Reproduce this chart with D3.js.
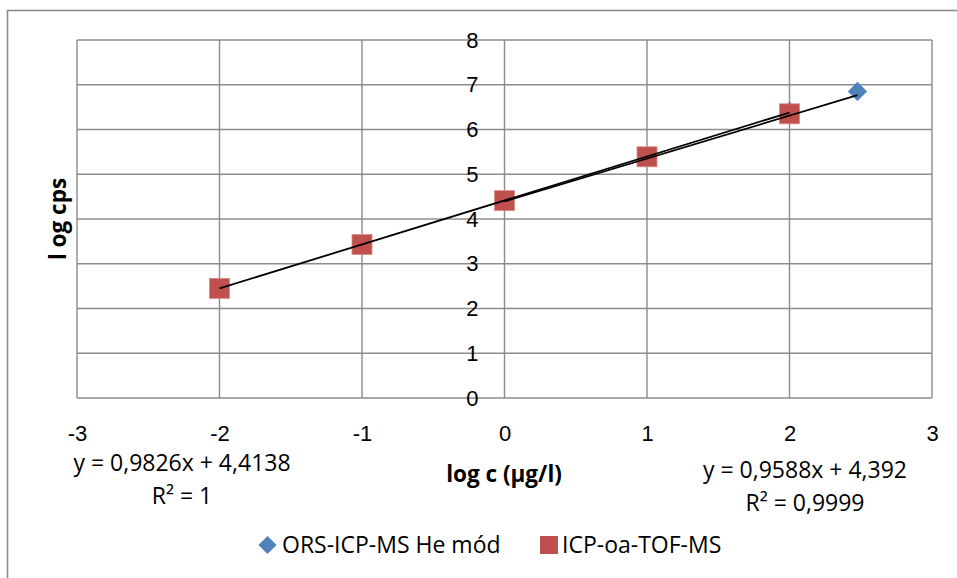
<!DOCTYPE html>
<html>
<head>
<meta charset="utf-8">
<script src="https://cdn.jsdelivr.net/npm/d3@7"></script>
<style>
  body { margin: 0; background: #fff; }
  svg { font-family: "Open Sans", sans-serif; }
  .grid line { stroke: #8c8c8c; stroke-width: 1.4; }
  .axis text { font-size: 22px; fill: #000; }
</style>
</head>
<body>
<svg id="chart" width="957" height="578"></svg>
<script>
// data
const xTicks = [-3, -2, -1, 0, 1, 2, 3];
const yTicks = [0, 1, 2, 3, 4, 5, 6, 7, 8];

const orsX = [0, 1, 2, 2.477];
const orsY = [4.43, 5.39, 6.41, 6.85];

const tofX = [-2, -1, 0, 1, 2];
const tofY = [2.45, 3.43, 4.41, 5.39, 6.35];

// trendline coefficients [slope, intercept], labels
const orsFit = [0.9588, 4.392];
const tofFit = [0.9826, 4.4138];
const orsEq = ["y = 0,9588x + 4,392", "R² = 0,9999"];
const tofEq = ["y = 0,9826x + 4,4138", "R² = 1"];
const seriesNames = ["ORS-ICP-MS He mód", "ICP-oa-TOF-MS"];
const colors = ["#4F81BD", "#C0504D"];

const svg = d3.select("#chart");
const margin = { left: 77, top: 40, right: 25, bottom: 180 };
const width = 957 - margin.left - margin.right;
const height = 578 - margin.top - margin.bottom;

// outer chart frame (runs off the picture at right and bottom)
svg.append("rect")
  .attr("x", 7.5).attr("y", 10.5)
  .attr("width", 970).attr("height", 600)
  .attr("fill", "none")
  .attr("stroke", "#8c8c8c")
  .attr("stroke-width", 1.6);

const chart = svg.append("g")
  .attr("transform", `translate(${margin.left}, ${margin.top})`);

const xScale = d3.scaleLinear().domain([-3, 3]).range([0, width]);
const yScale = d3.scaleLinear().domain([0, 8]).range([height, 0]);

// grid
chart.append("g")
  .attr("class", "grid")
  .selectAll("line.h")
  .data(yTicks)
  .enter()
  .append("line")
  .attr("x1", 0).attr("x2", width)
  .attr("y1", d => yScale(d)).attr("y2", d => yScale(d));

chart.append("g")
  .attr("class", "grid")
  .selectAll("line.v")
  .data(xTicks)
  .enter()
  .append("line")
  .attr("y1", 0).attr("y2", height)
  .attr("x1", d => xScale(d)).attr("x2", d => xScale(d));

// y labels sit next to the x=0 line
const yAxis = chart.append("g")
  .attr("class", "axis")
  .attr("transform", `translate(${xScale(0)}, 0)`)
  .call(d3.axisLeft(yScale).tickValues(yTicks).tickSize(0).tickPadding(26).tickFormat(d => String(d)));
yAxis.select(".domain").remove();
yAxis.selectAll("text").attr("font-family", null).attr("font-size", null);

const xAxis = chart.append("g")
  .attr("class", "axis")
  .attr("transform", `translate(0, ${height})`)
  .call(d3.axisBottom(xScale).tickValues(xTicks).tickSize(0).tickPadding(27).tickFormat(d => String(d)));
xAxis.select(".domain").remove();
xAxis.selectAll("text").attr("font-family", null).attr("font-size", null);

// trendlines
const line = d3.line().x(d => xScale(d[0])).y(d => yScale(d[1]));
const trend = (xs, fit) => {
  const x0 = d3.min(xs), x1 = d3.max(xs);
  return [[x0, fit[0] * x0 + fit[1]], [x1, fit[0] * x1 + fit[1]]];
};

// markers
chart.selectAll(".ors")
  .data(orsX.map((x, i) => [x, orsY[i]]))
  .enter()
  .append("path")
  .attr("class", "ors")
  .attr("d", d3.symbol().type(d3.symbolSquare).size(185))
  .attr("transform", d => `translate(${xScale(d[0])}, ${yScale(d[1])}) rotate(45)`)
  .attr("fill", colors[0]);

chart.selectAll(".tof")
  .data(tofX.map((x, i) => [x, tofY[i]]))
  .enter()
  .append("rect")
  .attr("class", "tof")
  .attr("x", d => xScale(d[0]) - 10)
  .attr("y", d => yScale(d[1]) - 10)
  .attr("width", 20).attr("height", 20)
  .attr("fill", colors[1])
  .attr("stroke", "#d98a88")
  .attr("stroke-width", 0.8);

chart.append("path")
  .datum(trend(orsX, orsFit))
  .attr("d", line)
  .attr("stroke", "#000").attr("stroke-width", 1.8).attr("fill", "none");

chart.append("path")
  .datum(trend(tofX, tofFit))
  .attr("d", line)
  .attr("stroke", "#000").attr("stroke-width", 1.8).attr("fill", "none");

// axis titles
svg.append("text")
  .attr("x", 504).attr("y", 482)
  .attr("text-anchor", "middle")
  .attr("font-weight", "bold")
  .attr("font-size", 22.5)
  .text("log c (µg/l)");

svg.append("text")
  .attr("transform", "translate(66, 219) rotate(-90)")
  .attr("text-anchor", "middle")
  .attr("font-weight", "bold")
  .attr("font-size", 22.5)
  .text("l og cps");

// trendline equations
const eq = (lines, cx, y0) => {
  lines.forEach((t, i) => {
    svg.append("text")
      .attr("x", cx).attr("y", y0 + i * 33)
      .attr("text-anchor", "middle")
      .attr("font-size", 23)
      .text(t);
  });
};
eq(tofEq, 182, 471);
eq(orsEq, 805, 478);

// legend
const legend = svg.append("g");
legend.append("path")
  .attr("d", d3.symbol().type(d3.symbolSquare).size(165))
  .attr("transform", "translate(267.5, 545) rotate(45)")
  .attr("fill", colors[0]);
legend.append("text")
  .attr("x", 282).attr("y", 553)
  .attr("font-size", 23)
  .text(seriesNames[0]);
legend.append("rect")
  .attr("x", 540).attr("y", 536)
  .attr("width", 18).attr("height", 18)
  .attr("fill", colors[1]);
legend.append("text")
  .attr("x", 562).attr("y", 553)
  .attr("font-size", 23)
  .text(seriesNames[1]);
</script>
</body>
</html>
